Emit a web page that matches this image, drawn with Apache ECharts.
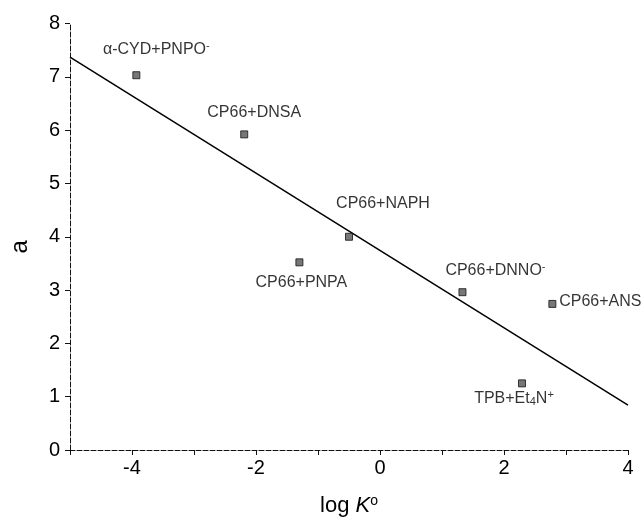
<!DOCTYPE html>
<html>
<head>
<meta charset="utf-8">
<script src="https://cdn.jsdelivr.net/npm/echarts@6/dist/echarts.min.js"></script>
<style>
  html, body { margin: 0; padding: 0; background: #fff; }
  #chart { width: 644px; height: 522px; }
</style>
</head>
<body>
<div id="chart"></div>
<script>
// points
const names = ['α-CYD+PNPO{sup|-}', 'CP66+DNSA', 'CP66+NAPH', 'CP66+PNPA', 'CP66+DNNO{sup|-}', 'CP66+ANS', 'TPB+Et{sub|4}N{sup|+}']
const logK = [-3.93, -2.19, -0.50, -1.30, 1.33, 2.78, 2.29]
const aVals = [7.03, 5.92, 4.00, 3.52, 2.96, 2.74, 1.25]

// fitted line ends
const fitX = [-5, 4]
const fitY = [7.37, 0.84]

const xTicks = [-4, -2, 0, 2, 4]
const yTicks = [0, 1, 2, 3, 4, 5, 6, 7, 8]

// label offsets from the marker, px
const labelOffsets = [[20, -26], [10, -22], [34, -33], [2, 20], [33, -22], [48, -2], [-8, 15]]

const font = 'Liberation Sans, Arial, sans-serif'
const axisLine = { onZero: false, lineStyle: { color: '#111', width: 1, type: [5, 2] } }

const chart = echarts.init(document.getElementById('chart'))
chart.setOption({
  animation: false,
  grid: { left: 65, right: 16, top: 23.5, bottom: 69.5 },
  xAxis: {
    type: 'value',
    min: -5,
    max: 4,
    interval: 1,
    name: '{n|log }{i|K}{s|o}',
    nameLocation: 'middle',
    nameGap: 44,
    nameTextStyle: {
      rich: {
        n: { fontFamily: font, fontSize: 22, color: '#000' },
        i: { fontFamily: font, fontSize: 22, fontStyle: 'italic', color: '#000' },
        s: { fontFamily: font, fontSize: 14, color: '#000', verticalAlign: 'top', padding: [0, 0, 10, 0] }
      }
    },
    axisLine: axisLine,
    axisTick: { length: 5, lineStyle: { color: '#111' } },
    splitLine: { show: false },
    axisLabel: {
      fontFamily: font,
      fontSize: 20,
      color: '#000',
      margin: 8,
      formatter: v => (xTicks.indexOf(v) >= 0 ? String(v) : '')
    }
  },
  yAxis: {
    type: 'value',
    min: 0,
    max: 8,
    interval: 1,
    name: 'a',
    nameLocation: 'middle',
    nameGap: 38,
    nameTextStyle: { fontFamily: font, fontSize: 24, color: '#000', padding: [0, 20, 0, 0] },
    axisLine: axisLine,
    axisTick: { length: 5, lineStyle: { color: '#111' } },
    splitLine: { show: false },
    axisLabel: {
      fontFamily: font,
      fontSize: 20,
      color: '#000',
      margin: 10,
      formatter: v => (yTicks.indexOf(v) >= 0 ? String(v) : '')
    }
  },
  series: [
    {
      type: 'line',
      data: fitX.map((x, i) => [x, fitY[i]]),
      showSymbol: false,
      lineStyle: { color: '#000', width: 1.5 },
      z: 1
    },
    {
      type: 'scatter',
      symbol: 'rect',
      symbolSize: 7,
      itemStyle: { color: '#555', borderColor: '#111', borderWidth: 1 },
      data: logK.map((x, i) => ({
        value: [x, aVals[i]],
        label: {
          show: true,
          position: 'inside',
          offset: labelOffsets[i],
          formatter: names[i]
        }
      })),
      label: {
        fontFamily: font,
        fontSize: 16,
        color: '#000',
        textBorderWidth: 0,
        align: 'center',
        verticalAlign: 'middle',
        lineHeight: 18,
        rich: {
          sup: { fontFamily: font, fontSize: 11, color: '#000', textBorderWidth: 0, verticalAlign: 'top', lineHeight: 18, padding: [0, 0, 6, 0] },
          sub: { fontFamily: font, fontSize: 11, color: '#000', textBorderWidth: 0, verticalAlign: 'bottom', lineHeight: 18, padding: [6, 0, 0, 0] }
        }
      },
      z: 2
    }
  ]
})
</script>
</body>
</html>
